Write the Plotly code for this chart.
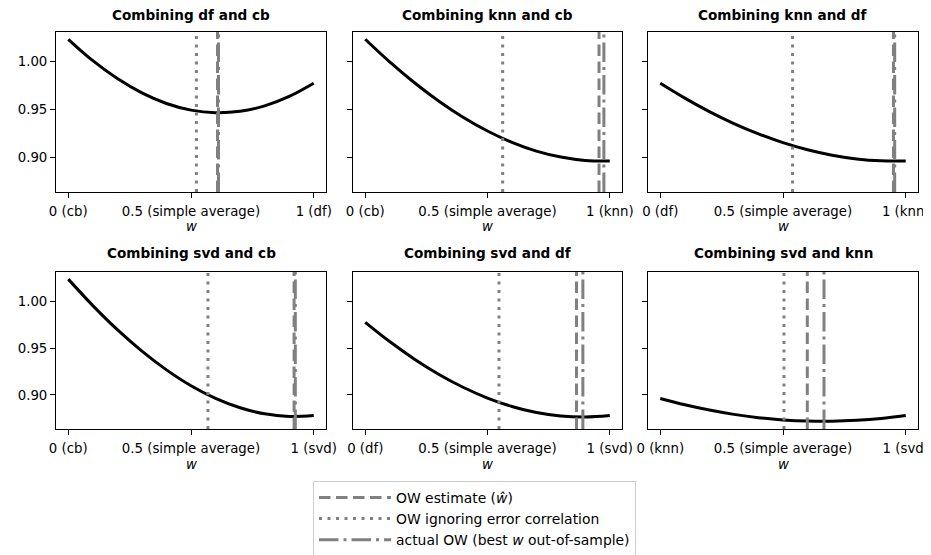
import plotly.graph_objects as go

# ---- data ----
W = [0.0, 0.1, 0.2, 0.3, 0.4, 0.5, 0.6, 0.7, 0.8, 0.9, 1.0]

titles = ["Combining df and cb", "Combining knn and cb", "Combining knn and df",
          "Combining svd and cb", "Combining svd and df", "Combining svd and knn"]
left_labels = ["cb", "cb", "df", "cb", "df", "knn"]
right_labels = ["df", "knn", "knn", "svd", "svd", "svd"]

rmse_df_cb = [1.0234, 1.0010, 0.9823, 0.9673, 0.9562, 0.9493, 0.9466, 0.9481, 0.9537, 0.9636, 0.9774]
rmse_knn_cb = [1.0234, 0.9997, 0.9782, 0.9589, 0.9419, 0.9275, 0.9156, 0.9065, 0.9002, 0.8967, 0.8961]
rmse_knn_df = [0.9774, 0.9619, 0.9478, 0.9353, 0.9245, 0.9153, 0.9079, 0.9022, 0.8983, 0.8963, 0.8961]
rmse_svd_cb = [1.0234, 0.9952, 0.9695, 0.9466, 0.9267, 0.9098, 0.8963, 0.8863, 0.8799, 0.8771, 0.8780]
rmse_svd_df = [0.9774, 0.9569, 0.9384, 0.9221, 0.9082, 0.8967, 0.8877, 0.8812, 0.8775, 0.8764, 0.8780]
rmse_svd_knn = [0.8962, 0.8895, 0.8839, 0.8793, 0.8758, 0.8734, 0.8721, 0.8719, 0.8729, 0.8749, 0.8780]
curves = [rmse_df_cb, rmse_knn_cb, rmse_knn_df, rmse_svd_cb, rmse_svd_df, rmse_svd_knn]

ow_estimate = [0.608, 0.956, 0.950, 0.920, 0.864, 0.599]
ow_ignoring = [0.522, 0.562, 0.539, 0.569, 0.547, 0.504]
ow_actual = [0.612, 0.976, 0.955, 0.925, 0.890, 0.667]

y_ticks = [0.90, 0.95, 1.00]
y_ticktext = ["0.90", "0.95", "1.00"]

# ---- styling ----
# The page body has an 8px margin, so the figure starts 8px in from the
# window corner; positions below are in window pixels and converted.
WIN_W, WIN_H = 931, 555
OFF = 8
FIG_W, FIG_H = WIN_W, WIN_H
FONT = "DejaVu Sans"
FS_TICK = 13.3
FS_TITLE = 13.6
FS_LEG = 13.9
GREY = "#808080"
DASH = "11.5px,5.5px"
DOT = "3px,5.5px"
DASHDOT = "19.5px,5px,3px,5px"


def px_x(p):
    return (p - OFF) / FIG_W


def px_y(p):
    return 1 - (p - OFF) / FIG_H


col_px = [(56, 326), (353, 622), (648, 918)]
row_px = [(32, 192), (272, 429)]
title_y_px = [15, 253]
wlabel_y_px = [226, 464]

fig = go.Figure()
layout = dict(
    template="none",
    width=FIG_W, height=FIG_H, autosize=False,
    margin=dict(l=0, r=0, t=0, b=0, pad=0, autoexpand=False),
    paper_bgcolor="white", plot_bgcolor="white",
    font=dict(family=FONT, size=FS_TICK, color="black"),
    showlegend=True,
)
annotations = []
shapes = []

for i in range(6):
    r, c = divmod(i, 3)
    n = i + 1
    xa = "x" if n == 1 else f"x{n}"
    ya = "y" if n == 1 else f"y{n}"
    xd = [px_x(col_px[c][0]), px_x(col_px[c][1])]
    yd = [px_y(row_px[r][1]), px_y(row_px[r][0])]
    layout["xaxis" if n == 1 else f"xaxis{n}"] = dict(
        domain=xd, anchor=ya, range=[-0.05, 1.05], automargin=False,
        tickvals=[0, 0.5, 1],
        ticktext=[f"0 ({left_labels[i]})", "0.5 (simple average)", f"1 ({right_labels[i]})"],
        ticks="outside", ticklen=5, tickwidth=1, tickcolor="black",
        ticklabelstandoff=2, ticklabeloverflow="allow",
        showgrid=False, zeroline=False, showline=True, mirror=True,
        linecolor="black", linewidth=1, tickfont=dict(size=FS_TICK),
    )
    layout["yaxis" if n == 1 else f"yaxis{n}"] = dict(
        domain=yd, anchor=xa, range=[0.8637, 1.031], automargin=False,
        tickvals=y_ticks, ticktext=y_ticktext, showticklabels=(c == 0),
        ticks="outside", ticklen=5, tickwidth=1, tickcolor="black",
        showgrid=False, zeroline=False, showline=True, mirror=True,
        linecolor="black", linewidth=1, tickfont=dict(size=FS_TICK),
    )
    fig.add_trace(go.Scatter(
        x=W, y=curves[i], mode="lines", xaxis=xa, yaxis=ya,
        line=dict(color="black", width=3, shape="spline"), showlegend=False,
        hoverinfo="skip",
    ))
    for val, dash in ((ow_ignoring[i], DOT), (ow_estimate[i], DASH), (ow_actual[i], DASHDOT)):
        shapes.append(dict(
            type="line", xref=xa, yref=f"{ya} domain", x0=val, x1=val, y0=0, y1=1,
            line=dict(color=GREY, width=3, dash=dash),
        ))
    xc = px_x((col_px[c][0] + col_px[c][1]) / 2)
    annotations.append(dict(
        text=f"<b>{titles[i]}</b>", xref="paper", yref="paper",
        x=xc, y=px_y(title_y_px[r]), xanchor="center", yanchor="middle",
        showarrow=False, font=dict(size=FS_TITLE),
    ))
    annotations.append(dict(
        text="<i>w</i>", xref="paper", yref="paper",
        x=xc, y=px_y(wlabel_y_px[r]), xanchor="center", yanchor="middle",
        showarrow=False, font=dict(size=FS_TICK),
    ))

legend_names = ["OW estimate (<i>ŵ</i>)", "OW ignoring error correlation",
                "actual OW (best <i>w</i> out-of-sample)"]
for name, dash in zip(legend_names, (DASH, DOT, DASHDOT)):
    fig.add_trace(go.Scatter(
        x=[None], y=[None], mode="lines", name=name,
        line=dict(color=GREY, width=3, dash=dash), showlegend=True,
    ))

layout["legend"] = dict(
    x=px_x(313), y=px_y(481), xanchor="left", yanchor="top",
    bgcolor="white", bordercolor="#cccccc", borderwidth=1,
    font=dict(size=FS_LEG), itemwidth=72, tracegroupgap=0,
)
layout["annotations"] = annotations
layout["shapes"] = shapes
fig.update_layout(**layout)

fig.write_html("out.html")
